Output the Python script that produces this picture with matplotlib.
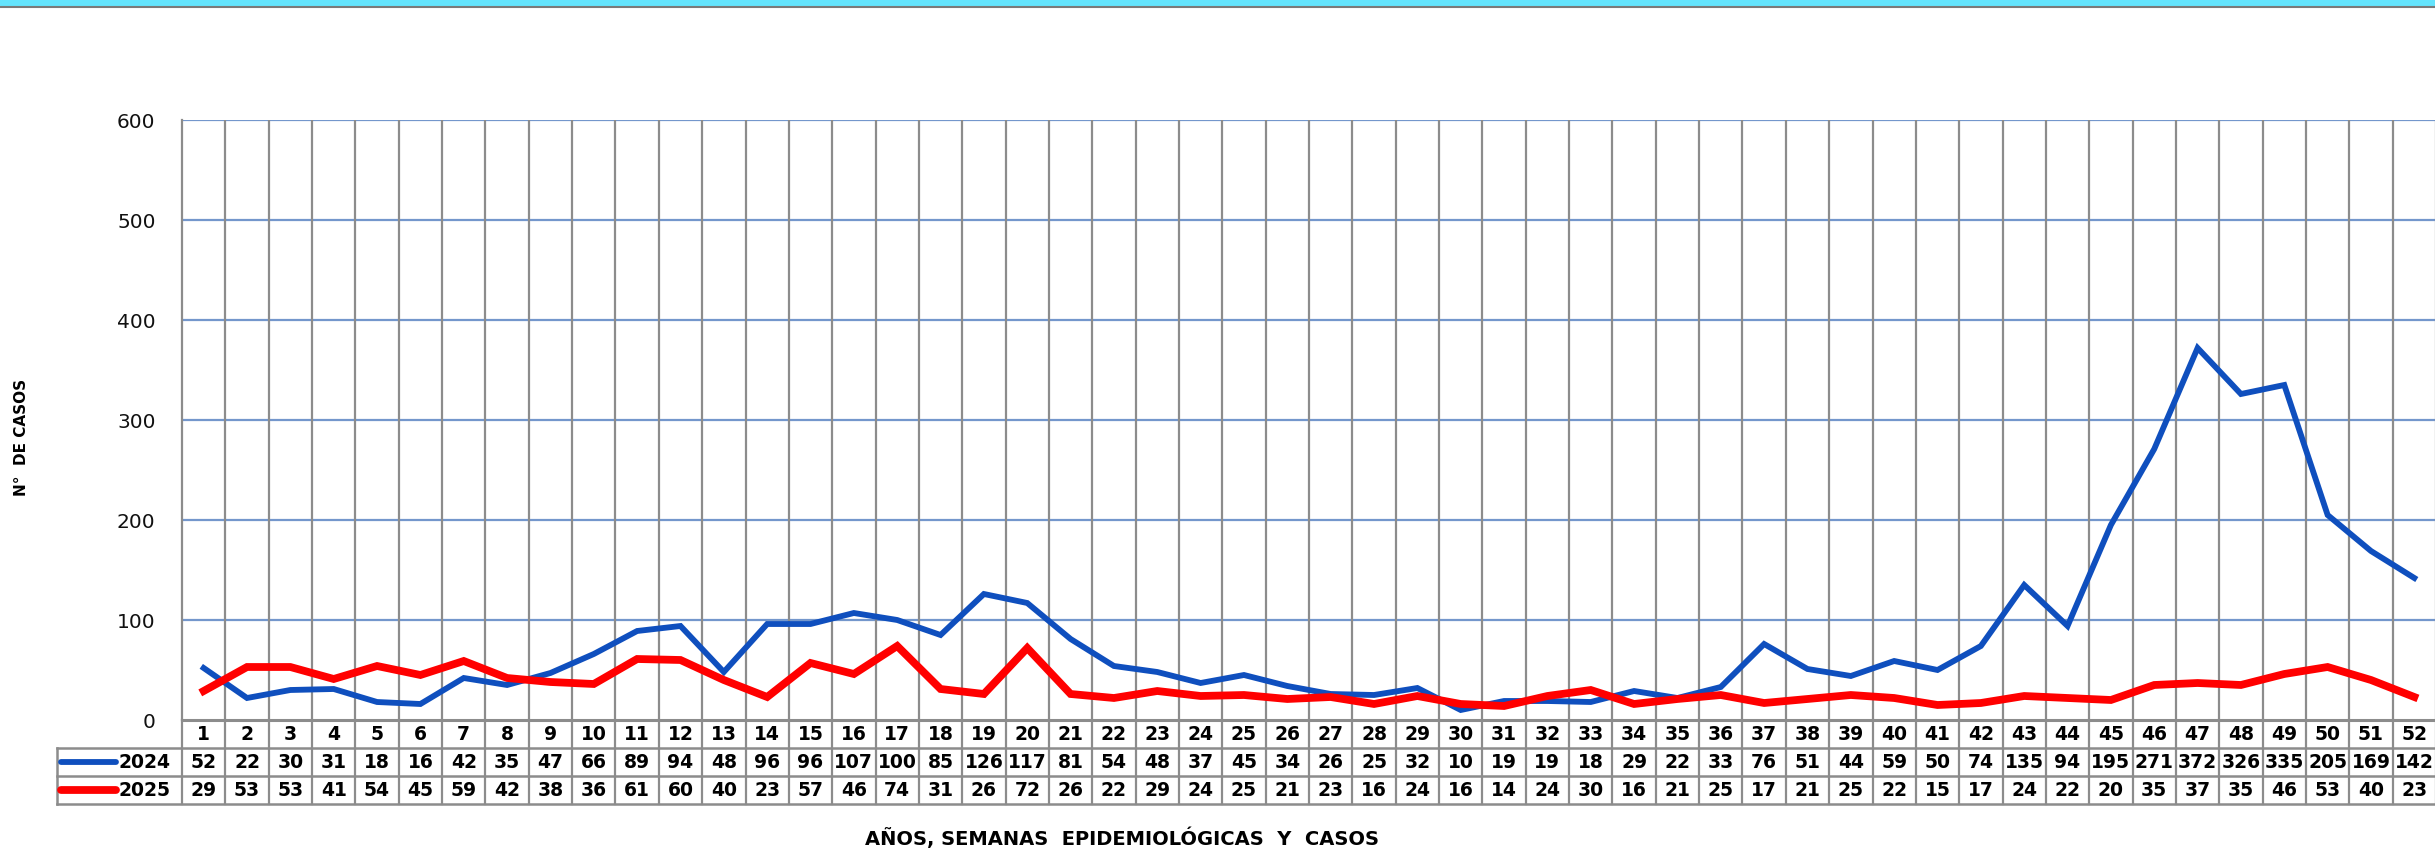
import numpy as np
import matplotlib.pyplot as plt
from matplotlib.transforms import blended_transform_factory

# semanas epidemiologicas y casos por año
semanas = list(range(1, 53))
casos_2024 = [52, 22, 30, 31, 18, 16, 42, 35, 47, 66, 89, 94, 48, 96, 96, 107, 100, 85, 126, 117,
              81, 54, 48, 37, 45, 34, 26, 25, 32, 10, 19, 19, 18, 29, 22, 33, 76, 51, 44, 59,
              50, 74, 135, 94, 195, 271, 372, 326, 335, 205, 169, 142]
casos_2025 = [29, 53, 53, 41, 54, 45, 59, 42, 38, 36, 61, 60, 40, 23, 57, 46, 74, 31, 26, 72,
              26, 22, 29, 24, 25, 21, 23, 16, 24, 16, 14, 24, 30, 16, 21, 25, 17, 21, 25, 22,
              15, 17, 24, 22, 20, 35, 37, 35, 46, 53, 40, 23]
anios = ["2024", "2025"]
y_ticks = [0, 100, 200, 300, 400, 500, 600]

color_2024 = "#0F4FBE"
color_2025 = "#FF0000"
gris = "#8C8C8C"
W, H = 2435, 853

fig = plt.figure(figsize=(W / 100, H / 100), dpi=100)
# posicion del area del grafico en pixeles
left_px, right_px, top_px, bottom_px = 182, 2436, 121, 721
ax = fig.add_axes([left_px / W, 1 - bottom_px / H, (right_px - left_px) / W, (bottom_px - top_px) / H])

ax.plot(semanas, casos_2024, color=color_2024, lw=4.2, solid_joinstyle="miter", zorder=3)
ax.plot(semanas, casos_2025, color=color_2025, lw=5.6, solid_joinstyle="miter", zorder=4)

ax.set_xlim(0.5, 52.5)
ax.set_ylim(0, 600)
ax.set_yticks(y_ticks)
ax.set_yticklabels([str(v) for v in y_ticks], fontsize=14.5, color="#111111")
ax.tick_params(axis="y", length=0, pad=19)
ax.set_xticks([])
for s in ["top", "right", "bottom"]:
    ax.spines[s].set_visible(False)
ax.spines["left"].set_color(gris)
ax.spines["left"].set_linewidth(1.6)

# grilla horizontal azul y vertical gris
for v in y_ticks[1:]:
    ax.axhline(v, color="#7497CC", lw=1.6, zorder=1)
for k in range(1, 53):
    ax.axvline(k + 0.5, color=gris, lw=1.6, zorder=1)

# tabla de datos debajo del grafico
trans = blended_transform_factory(ax.transData, ax.transAxes)
row_h = 28 / (bottom_px - top_px)
tbl_left = (57 - left_px) / (right_px - left_px)
y_rows = [0, -row_h, -2 * row_h, -3 * row_h]
fs_tab = 13.5

ax.plot([0.5, 52.5], [0, 0], transform=trans, color=gris, lw=2.2, clip_on=False, zorder=5)
for yy in y_rows[1:]:
    ax.plot([tbl_left, 1.0], [yy, yy], transform=ax.transAxes, color=gris, lw=1.8, clip_on=False)
ax.plot([tbl_left, tbl_left], [y_rows[1], y_rows[3]], transform=ax.transAxes, color=gris, lw=1.8, clip_on=False)
for k in range(0, 53):
    ax.plot([k + 0.5, k + 0.5], [0, y_rows[3]], transform=trans, color=gris, lw=1.6, clip_on=False)

for i, s in enumerate(semanas):
    ax.text(s, (y_rows[0] + y_rows[1]) / 2, str(s), transform=trans, ha="center", va="center",
            fontsize=fs_tab, fontweight="bold", clip_on=False)
    ax.text(s, (y_rows[1] + y_rows[2]) / 2, str(casos_2024[i]), transform=trans, ha="center", va="center",
            fontsize=fs_tab, fontweight="bold", clip_on=False)
    ax.text(s, (y_rows[2] + y_rows[3]) / 2, str(casos_2025[i]), transform=trans, ha="center", va="center",
            fontsize=fs_tab, fontweight="bold", clip_on=False)

# leyenda en la cabecera de filas
key_x0 = (61 - left_px) / (right_px - left_px)
key_x1 = (116 - left_px) / (right_px - left_px)
txt_x = (118 - left_px) / (right_px - left_px)
for j, (anio, col, lw) in enumerate(zip(anios, [color_2024, color_2025], [4.2, 5.6])):
    yc = (y_rows[j + 1] + y_rows[j + 2]) / 2
    ax.plot([key_x0, key_x1], [yc, yc], transform=ax.transAxes, color=col, lw=lw,
            solid_capstyle="round", clip_on=False)
    ax.text(txt_x, yc, anio, transform=ax.transAxes, ha="left", va="center",
            fontsize=fs_tab, fontweight="bold", clip_on=False)

# titulos de ejes
fig.text(22 / W, 1 - 437 / H, "N°  DE CASOS", rotation=90, ha="center", va="center",
         fontsize=11, fontweight="bold")
fig.text(1122 / W, 1 - 838 / H, "AÑOS, SEMANAS  EPIDEMIOLÓGICAS  Y  CASOS", ha="center", va="center",
         fontsize=14, fontweight="bold")

# franja superior
fig.patches.append(plt.Rectangle((0, 1 - 5.5 / H), 1, 5.5 / H, transform=fig.transFigure,
                                 color="#64E4FD", zorder=0))
fig.lines.append(plt.Line2D([0, 1], [1 - 7.8 / H, 1 - 7.8 / H], transform=fig.transFigure,
                            color="#7A7A7A", lw=1.5))

fig.savefig("out.png", dpi=100)
